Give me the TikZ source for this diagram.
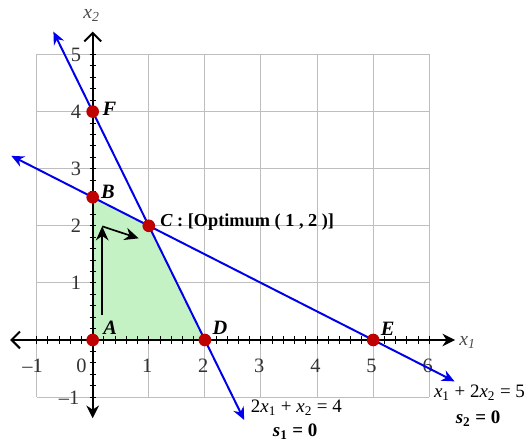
\documentclass[tikz,border=0pt]{standalone}
\usepackage{fontspec}
\setmainfont{Liberation Serif}
\usetikzlibrary{arrows.meta, positioning, calc}
\definecolor{linecolor}{RGB}{0, 0, 235}
\definecolor{dotcolor}{RGB}{192, 0, 0}
\definecolor{regioncolor}{RGB}{196, 242, 196}
\definecolor{gridcolor}{RGB}{190, 190, 190}
\newcommand{\xv}[1]{\textit{x}\textsubscript{#1}}

\begin{document}
\begin{tikzpicture}[x=1.4025cm, y=1.4275cm,
    gridline/.style={draw=gridcolor, line width=0.7pt},
    axis/.style={draw=black, line width=1.4pt},
    constraint/.style={draw=linecolor, line width=1.4pt,
                       {Stealth[length=9pt, width=8pt]}-{Stealth[length=9pt, width=8pt]}},
    move/.style={draw=black, line width=1.2pt, -{Stealth[length=10pt, width=9pt]}},
    corner/.style={circle, fill=dotcolor, inner sep=0pt, minimum size=9pt},
    ptlabel/.style={font=\fontsize{14.5}{16}\selectfont\bfseries\itshape, inner sep=0pt},
    ticklabel/.style={font=\fontsize{14.5}{16}\selectfont, text=black!80, inner sep=0pt},
    eqlabel/.style={font=\fontsize{13.5}{15}\selectfont, inner sep=0pt}
]
\useasboundingbox (-1.652,-1.804) rectangle (7.813,5.954);

% Grid
\foreach \x in {-1,...,6}
    \draw[gridline] (\x,-1) -- (\x,5);
\foreach \y in {-1,...,5}
    \draw[gridline] (-1,\y) -- (6,\y);

% Feasible region
\fill[regioncolor] (0,0) -- (0,2.5) -- (1,2) -- (2,0) -- cycle;

% Axes
\coordinate (xl) at (-1.47,0);
\coordinate (xr) at (6.46,0);
\coordinate (yb) at (0,-1.37);
\coordinate (yt) at (0,5.40);
\draw[axis, {Straight Barb[length=6pt, width=12pt]}-{Stealth[length=9pt, width=9pt]}] (xl) -- (xr);
\draw[axis, {Stealth[length=9pt, width=9pt]}-{Straight Barb[length=6pt, width=12pt]}] (yb) -- (yt);
\foreach \t in {-1,-0.8,...,6.1}
    \draw[black, line width=0.7pt] (\t,-0.07) -- (\t,0.07);
\foreach \t in {-1,-0.8,...,5.1}
    \draw[black, line width=0.7pt] (-0.055,\t) -- (0.055,\t);
\node[font=\fontsize{14}{16}\selectfont\itshape, text=black!70] (x1lab) at (6.68,-0.04) {x\textsubscript{1}};
\node[font=\fontsize{14}{16}\selectfont\itshape, text=black!70] (x2lab) at (-0.02,5.69) {x\textsubscript{2}};

% Tick labels
\foreach \x in {1,...,6}
    \node[ticklabel] (tx\x) at (\x-0.03,-0.45) {\x};
\node[ticklabel] (txm) at (-1.07,-0.45) {\textendash1};
\node[ticklabel] (tx0) at (-0.2,-0.45) {0};
\foreach \y in {1,...,5}
    \node[ticklabel] (ty\y) at (-0.3,\y) {\y};
\node[ticklabel] (tym) at (-0.42,-1.02) {\textendash1};

% Constraints
\coordinate (s1a) at (-0.7,5.4);
\coordinate (s1b) at (2.7,-1.4);
\coordinate (s2a) at (-1.45,3.225);
\coordinate (s2b) at (6.45,-0.725);
\draw[constraint] (s1a) -- (s1b);
\draw[constraint] (s2a) -- (s2b);
\node[eqlabel] (eq1) at (3.63,-1.19) {2\xv{1} + \xv{2} = 4};
\node[eqlabel, font=\fontsize{13.5}{15}\selectfont\bfseries] (s1) at (3.61,-1.6) {\textit{s}\textsubscript{1} = 0};
\node[eqlabel, anchor=west] (eq2) at (6.08,-0.93) {\xv{1} + 2\xv{2} = 5};
\node[eqlabel, font=\fontsize{13.5}{15}\selectfont\bfseries] (s2) at (6.87,-1.37) {\textit{s}\textsubscript{2} = 0};

% Search path
\coordinate (p0) at (0.17,0.44);
\coordinate (p1) at (0.17,1.99);
\coordinate (p2) at (0.82,1.78);
\draw[move] (p0) -- (p1);
\draw[move] (p1) -- (p2);

% Corner points
\node[corner] (A) at (0,0) {};
\node[corner] (B) at (0,2.5) {};
\node[corner] (C) at (1,2) {};
\node[corner] (D) at (2,0) {};
\node[corner] (E) at (5,0) {};
\node[corner] (F) at (0,4) {};
\node[ptlabel] at (0.31,0.21) {A};
\node[ptlabel] at (0.27,2.59) {B};
\node[ptlabel] at (0.3,4.05) {F};
\node[ptlabel] at (2.27,0.22) {D};
\node[ptlabel] at (5.26,0.19) {E};
\node[ptlabel, anchor=west, font=\fontsize{13}{15}\selectfont\bfseries] at (1.2,2.07)
    {\textit{C} : [Optimum ( 1 , 2 )]};

\end{tikzpicture}
\end{document}
